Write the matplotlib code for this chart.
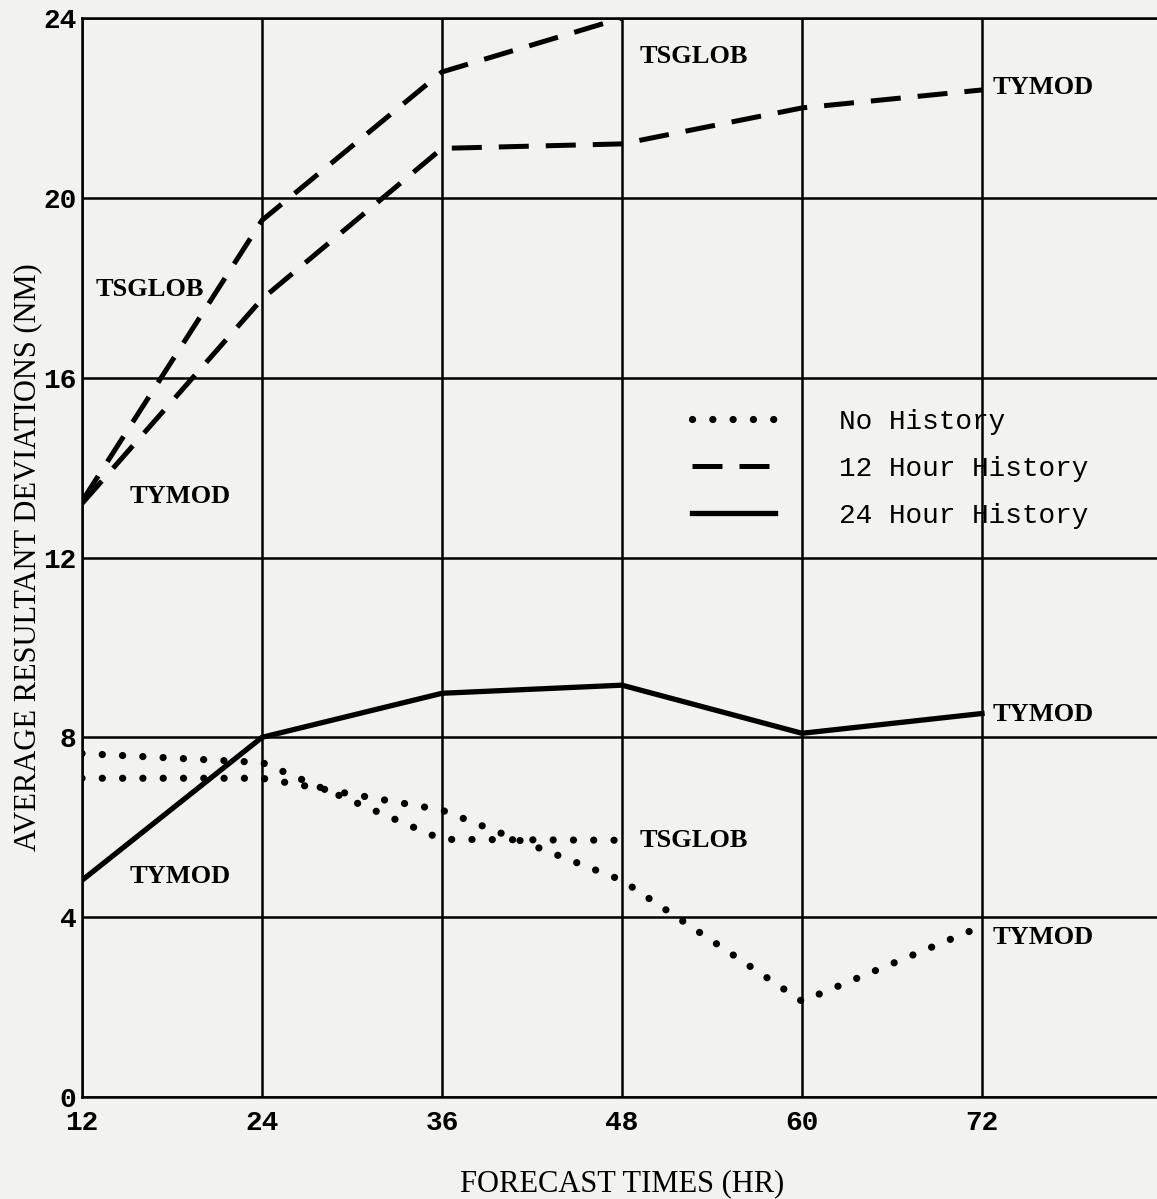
import matplotlib
matplotlib.use('Agg')
import matplotlib.pyplot as plt

# forecast times (hr)
hours = [12, 24, 36, 48, 60, 72]

# no history (dotted)
nohist_tsglob = [7.64, 7.44, 5.73, 5.71]
nohist_tymod = [7.09, 7.09, 6.38, 4.82, 2.13, 3.80]

# 12 hour history (dashed)
h12_tsglob = [13.25, 19.5, 22.8, 24.0]
h12_tymod = [13.2, 17.75, 21.1, 21.2, 22.0, 22.4]

# 24 hour history (solid)
h24_tymod = [4.82, 8.0, 8.98, 9.16, 8.09, 8.53]

x_ticks = [12, 24, 36, 48, 60, 72]
y_ticks = [0, 4, 8, 12, 16, 20, 24]

bg = '#f2f2f0'
label_font = dict(family='Liberation Serif', fontweight='bold', fontsize=19)
mono = 'Liberation Mono'

fig = plt.figure(figsize=(11.57, 11.99), dpi=100, facecolor=bg)
ax = fig.add_axes([82 / 1157, 102 / 1199, 1080 / 1157, 1079 / 1199])
ax.set_facecolor(bg)

dot_kw = dict(color='black', lw=5.2, dashes=(0.01, 2.8), dash_capstyle='round')
dash_kw = dict(color='black', lw=3.6, dashes=(6.0, 3.4))
solid_kw = dict(color='black', lw=3.8)

ax.plot(hours[:len(nohist_tsglob)], nohist_tsglob, label='No History', **dot_kw)
ax.plot(hours, nohist_tymod, **dot_kw)
ax.plot(hours[:len(h12_tsglob)], h12_tsglob, label='12 Hour History', **dash_kw)
ax.plot(hours, h12_tymod, **dash_kw)
ax.plot(hours, h24_tymod, label='24 Hour History', **solid_kw)

# series labels
ax.text(49.2, 23.15, 'TSGLOB', va='center', ha='left', **label_font)
ax.text(72.7, 22.45, 'TYMOD', va='center', ha='left', **label_font)
ax.text(12.9, 17.95, 'TSGLOB', va='center', ha='left', **label_font)
ax.text(15.2, 13.35, 'TYMOD', va='center', ha='left', **label_font)
ax.text(72.7, 8.5, 'TYMOD', va='center', ha='left', **label_font)
ax.text(49.2, 5.7, 'TSGLOB', va='center', ha='left', **label_font)
ax.text(15.2, 4.9, 'TYMOD', va='center', ha='left', **label_font)
ax.text(72.7, 3.55, 'TYMOD', va='center', ha='left', **label_font)

ax.set_xlim(12, 84)
ax.set_ylim(0, 24)
ax.set_xticks(x_ticks)
ax.set_yticks(y_ticks)
ax.grid(True, color='black', lw=1.8)
ax.set_axisbelow(True)
ax.tick_params(length=0)
ax.tick_params(axis='y', pad=4)
ax.tick_params(axis='x', pad=9)
for lab in ax.get_xticklabels() + ax.get_yticklabels():
    lab.set_fontfamily(mono)
    lab.set_fontweight('bold')
    lab.set_fontsize(20)
for s in ax.spines.values():
    s.set_linewidth(1.8)

ax.set_xlabel('FORECAST TIMES (HR)', family='Liberation Serif', fontsize=22, labelpad=24)
ax.set_ylabel('AVERAGE RESULTANT DEVIATIONS (NM)', family='Liberation Serif', fontsize=22, labelpad=1)

leg = ax.legend(loc='center left', bbox_to_anchor=(0.552, 0.582), frameon=False,
                prop={'family': mono, 'size': 20}, handlelength=3.0,
                handletextpad=2.3, labelspacing=0.75, borderpad=0)

fig.savefig('out.png', dpi=100, facecolor=bg)
